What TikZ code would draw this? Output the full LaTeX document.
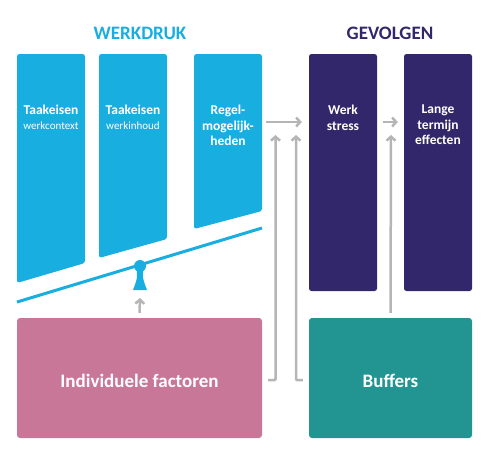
\documentclass[tikz,border=0pt]{standalone}
\usepackage{fontspec}
\setmainfont{Carlito}
\usetikzlibrary{arrows.meta}
\definecolor{cyanw}{HTML}{19AEE0}
\definecolor{purpg}{HTML}{32276A}
\definecolor{pinkf}{HTML}{C97799}
\definecolor{tealb}{HTML}{229592}
\definecolor{grayc}{HTML}{B5B5B5}
\tikzset{
  ttl/.style={font=\bfseries\fontsize{19}{22}\selectfont},
  btxt/.style={text=white, align=center, inner sep=0pt, font=\bfseries\fontsize{13.5}{15.5}\selectfont, anchor=north},
  pbox/.style={fill=purpg, rounded corners=2.5pt, minimum width=68pt, minimum height=237pt, inner sep=0pt},
  bigbox/.style={rounded corners=3pt, minimum height=120pt, inner sep=0pt},
  bigtxt/.style={text=white, inner sep=0pt, font=\bfseries\fontsize{19}{22}\selectfont},
  garrow/.style={draw=grayc, line width=2.5pt, -{Straight Barb[length=4pt,width=9pt]}},
}
\begin{document}
\begin{tikzpicture}[x=1pt,y=-1pt]
\useasboundingbox (0,0) rectangle (500,459);
% titles
\node[ttl, text=cyanw] (wd) at (140,33) {WERKDRUK};
\node[ttl, text=purpg] (gv) at (390,33) {GEVOLGEN};
% slanted blue boxes
\fill[cyanw, rounded corners=2.5pt] (17,54) -- (85,54) -- (85,263) -- (17,283) -- cycle;
\fill[cyanw, rounded corners=2.5pt] (99,54) -- (167,54) -- (167,239) -- (99,258) -- cycle;
\fill[cyanw, rounded corners=2.5pt] (194,54) -- (262,54) -- (262,211) -- (194,229) -- cycle;
\node[btxt] (t1) at (51,105) {Taakeisen\\[-0.5pt]{\normalfont\fontsize{11}{13}\selectfont werkcontext}};
\node[btxt] (t2) at (133,105) {Taakeisen\\[-0.5pt]{\normalfont\fontsize{11}{13}\selectfont werkinhoud}};
\node[btxt] (t3) at (228,105) {Regel-\\mogelijk-\\heden};
% seesaw
\draw[cyanw, line width=3pt] (17,302) -- (262,228);
\fill[cyanw] (140,266) circle (6);
\fill[cyanw] (136.5,268) .. controls (137.5,278) .. (133,290) -- (147,290) .. controls (142.5,278) .. (143.5,268) -- cycle;
\coordinate (fb) at (140,298);
% purple boxes
\node[pbox] (ws) at (343,172.5) {};
\node[pbox] (lt) at (438,172.5) {};
\node[btxt] (wst) at (343,105) {Werk\\stress};
\node[btxt] (ltt) at (438,105) {Lange\\termijn\\effecten};
% bottom boxes
\node[bigbox, fill=pinkf, minimum width=245pt] (if) at (139.5,378) {};
\node[bigbox, fill=tealb, minimum width=163pt] (bu) at (390.5,378) {};
\node[bigtxt] (ift) at (139.5,380.5) {Individuele factoren};
\node[bigtxt] (but) at (390.5,380.5) {Buffers};
% arrows
\coordinate (rg) at (266,122);
\draw[garrow, shorten >=7pt] (rg) -- (rg -| ws.west);
\coordinate (w2) at (383,122);
\draw[garrow, shorten >=6pt] (w2) -- (w2 -| lt.west);
\draw[garrow] ([yshift=5pt]if.north) -- (fb);
\coordinate (v1) at (275.5,135);
\coordinate (v2) at (296,135);
\coordinate (v3) at (391,135);
\draw[garrow, rounded corners=1pt] ([xshift=6pt,yshift=-2pt]if.east) -| (v1);
\draw[garrow, rounded corners=1pt] ([xshift=-6pt,yshift=-2pt]bu.west) -| (v2);
\draw[garrow] ([yshift=5pt]bu.north) -- (v3);
\end{tikzpicture}
\end{document}
